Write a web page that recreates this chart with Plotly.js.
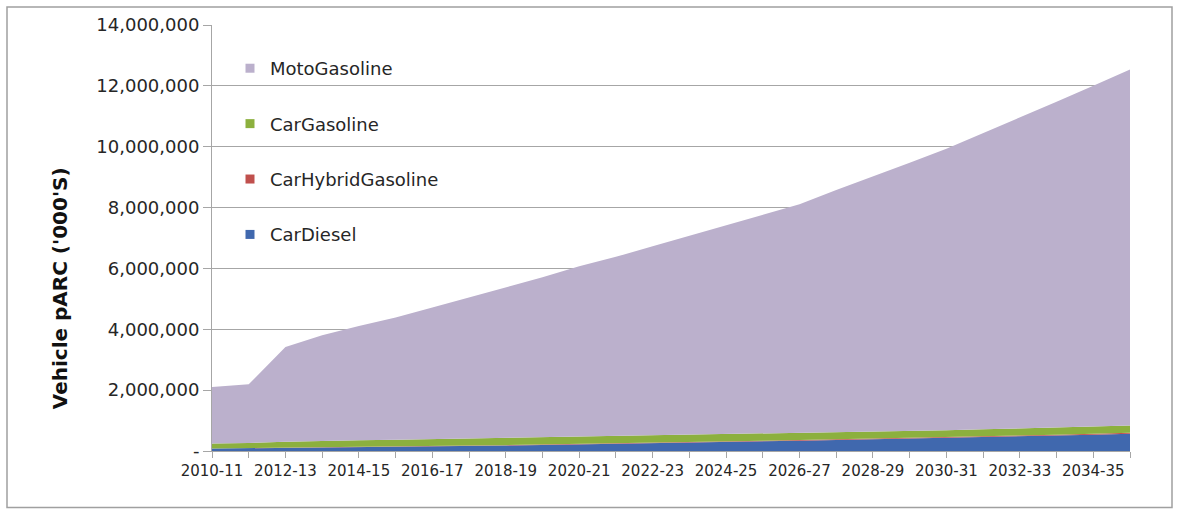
<!DOCTYPE html>
<html>
<head>
<meta charset="utf-8">
<script src="https://cdn.plot.ly/plotly-3.0.1.min.js"></script>
<style>
  html, body { margin: 0; padding: 0; background: #ffffff; }
  #chart { width: 1180px; height: 514px; }
</style>
</head>
<body>
<div id="chart"></div>
<script>
// Financial years on the category axis
const years = [
  '2010-11', '2011-12', '2012-13', '2013-14', '2014-15', '2015-16', '2016-17',
  '2017-18', '2018-19', '2019-20', '2020-21', '2021-22', '2022-23', '2023-24',
  '2024-25', '2025-26', '2026-27', '2027-28', '2028-29', '2029-30', '2030-31',
  '2031-32', '2032-33', '2033-34', '2034-35', '2035-36'
];

// Vehicle parc by segment ('000s), stacked bottom to top
const carDiesel = [
  80000, 90000, 100000, 115000, 128000, 142000, 155000, 168000, 182000, 198000,
  215000, 235000, 255000, 275000, 295000, 315000, 338000, 360000, 383000, 405000,
  428000, 452000, 480000, 508000, 538000, 570000
];
const carHybridGasoline = [
  2000, 2500, 4000, 5000, 6000, 7500, 8500, 9500, 11000, 12000,
  13500, 14500, 16000, 17000, 18500, 19500, 21000, 22000, 23500, 25000,
  26000, 27500, 29000, 30000, 31500, 33000
];
const carGasoline = [
  168000, 169500, 196000, 215000, 216000, 218500, 224500, 227500, 229000, 230000,
  231500, 230500, 229000, 228000, 226500, 225500, 223000, 223000, 223500, 225000,
  231000, 232500, 231000, 232000, 235500, 237000
];
const motoGasoline = [
  1850000, 1928000, 3120000, 3465000, 3760000, 4022000, 4332000, 4645000, 4958000, 5270000,
  5610000, 5900000, 6230000, 6550000, 6870000, 7190000, 7528000, 7975000, 8390000, 8815000,
  9245000, 9728000, 10220000, 10710000, 11195000, 11700000
];

// Axis tick labels
const yTickVals = [0, 2000000, 4000000, 6000000, 8000000, 10000000, 12000000, 14000000];
const yTickText = ['-', '2,000,000', '4,000,000', '6,000,000', '8,000,000', '10,000,000', '12,000,000', '14,000,000'];
const xTickText = years.map((y, i) => (i % 2 === 0 ? y : ''));

const seriesNames = ['CarDiesel', 'CarHybridGasoline', 'CarGasoline', 'MotoGasoline'];
const seriesColors = ['#4068ae', '#c0504d', '#8cb03e', '#bbb0cc'];
const seriesValues = [carDiesel, carHybridGasoline, carGasoline, motoGasoline];

const textColor = '#262626';
const gridColor = '#a6a6a6';

// Stacked areas
const areaTraces = seriesValues.map((vals, i) => ({
  type: 'scatter',
  mode: 'lines',
  x: years,
  y: vals,
  name: seriesNames[i],
  stackgroup: 'parc',
  line: { width: 0, color: seriesColors[i] },
  fillcolor: seriesColors[i],
  showlegend: false,
  hoverinfo: 'x+y+name'
}));

// Square legend keys, top series listed first
const legendTraces = seriesNames.map((name, i) => ({
  type: 'scatter',
  mode: 'markers',
  x: [null],
  y: [null],
  name: name,
  legendgroup: name,
  legendrank: seriesNames.length - i,
  marker: { symbol: 'square', size: 9, color: seriesColors[i] },
  showlegend: true
}));

const L = 212, R = 1130, T = 25, B = 450.6;
const pw = R - L, ph = B - T;

const layout = {
  width: 1180,
  height: 514,
  margin: { l: L, r: 1180 - R, t: T, b: 514 - B },
  paper_bgcolor: '#ffffff',
  plot_bgcolor: '#ffffff',
  showlegend: true,
  legend: {
    x: (230 - L) / pw,
    y: (B - 50) / ph,
    xanchor: 'left',
    yanchor: 'top',
    traceorder: 'grouped',
    tracegroupgap: 29,
    bgcolor: 'rgba(0,0,0,0)',
    font: { family: 'DejaVu Sans', size: 18, color: textColor },
    itemwidth: 30
  },
  xaxis: {
    type: 'category',
    range: [0, years.length - 1],
    tickmode: 'array',
    tickvals: years,
    ticktext: xTickText,
    ticks: 'outside',
    ticklen: 6,
    tickcolor: gridColor,
    showline: true,
    linecolor: gridColor,
    linewidth: 1,
    showgrid: false,
    zeroline: false,
    tickangle: 0,
    tickfont: { family: 'DejaVu Sans', size: 15, color: textColor },
    fixedrange: true
  },
  yaxis: {
    range: [0, 14000000],
    tickmode: 'array',
    tickvals: yTickVals,
    ticktext: yTickText,
    ticks: 'outside',
    ticklen: 8,
    tickcolor: gridColor,
    showline: true,
    linecolor: gridColor,
    linewidth: 1,
    showgrid: true,
    gridcolor: gridColor,
    gridwidth: 1,
    zeroline: false,
    tickfont: { family: 'DejaVu Sans', size: 18, color: textColor },
    fixedrange: true
  },
  annotations: [{
    text: "Vehicle pARC ('000'S)",
    xref: 'paper',
    yref: 'paper',
    x: (60 - L) / pw,
    y: (B - 288) / ph,
    xanchor: 'center',
    yanchor: 'middle',
    textangle: -90,
    showarrow: false,
    font: { family: 'DejaVu Sans', size: 20, weight: 'bold', color: '#111111' }
  }],
  shapes: [{
    type: 'rect',
    xref: 'paper',
    yref: 'paper',
    x0: (7 - L) / pw,
    x1: (1172 - L) / pw,
    y0: (B - 507) / ph,
    y1: (B - 7) / ph,
    line: { color: '#a0a0a0', width: 1.5 },
    fillcolor: 'rgba(0,0,0,0)',
    layer: 'below'
  }]
};

Plotly.newPlot('chart', areaTraces.concat(legendTraces), layout, { displayModeBar: false, staticPlot: true });
</script>
</body>
</html>
